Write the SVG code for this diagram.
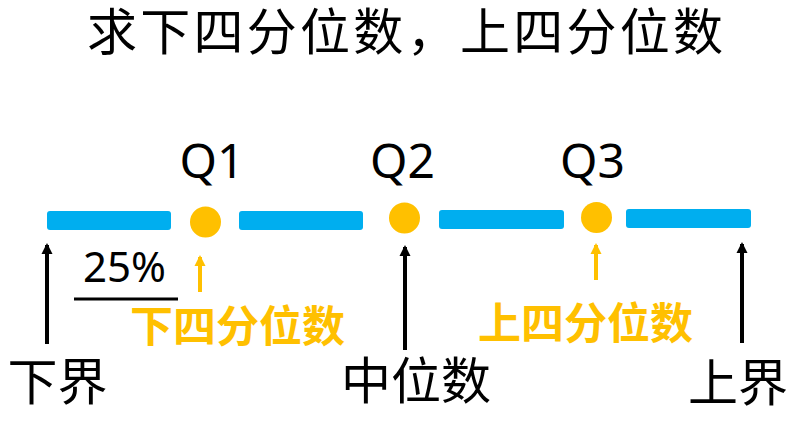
<svg xmlns="http://www.w3.org/2000/svg" width="810" height="434" viewBox="0 0 810 434">
<style>
.cjk{font-family:"Noto Sans CJK SC","Noto Sans",sans-serif;fill:#000}
.lat{font-family:"Noto Sans","Noto Sans CJK SC",sans-serif;fill:#000}
.ylab{font-family:"Noto Sans CJK SC",sans-serif;font-weight:bold;fill:#FFC000;font-size:43px}
.bar{fill:#00AEEF}
.dot{fill:#FFC000}
.blk{stroke:#000;stroke-width:4;fill:none}
.yel{stroke:#FFC000;stroke-width:4;fill:none}
</style>
<defs>
<marker id="ab" viewBox="0 0 12 12" refX="10" refY="6" markerWidth="12" markerHeight="12" markerUnits="userSpaceOnUse" orient="auto">
<path d="M12 6 L1 0.5 L1 11.5 Z" fill="#000"/>
</marker>
<marker id="ay" viewBox="0 0 12 12" refX="10" refY="6" markerWidth="12" markerHeight="12" markerUnits="userSpaceOnUse" orient="auto">
<path d="M12 6 L1 0.5 L1 11.5 Z" fill="#FFC000"/>
</marker>
</defs>
<rect width="810" height="434" fill="#fff"/>
<g id="title">
<text class="cjk" x="87" y="50" font-size="50" textLength="636" lengthAdjust="spacing">求下四分位数，上四分位数</text>
</g>
<g id="axis">
<rect class="bar" x="47" y="211" width="124" height="19" rx="3"/>
<rect class="bar" x="239" y="211" width="124" height="19" rx="3"/>
<rect class="bar" x="439" y="210" width="125" height="19" rx="3"/>
<rect class="bar" x="626" y="209" width="125" height="19" rx="3"/>
</g>
<g id="q1">
<circle class="dot" cx="205.5" cy="222" r="15.5"/>
<text class="lat" x="212" y="178" font-size="48" text-anchor="middle">Q1</text>
</g>
<g id="q2">
<circle class="dot" cx="404.5" cy="218" r="15.5"/>
<text class="lat" x="402.5" y="178" font-size="48" text-anchor="middle">Q2</text>
</g>
<g id="q3">
<circle class="dot" cx="596.5" cy="217.5" r="15.5"/>
<text class="lat" x="592.5" y="178" font-size="48" text-anchor="middle">Q3</text>
</g>
<g id="connectors">
<line class="blk" x1="47" y1="344" x2="47" y2="245" marker-end="url(#ab)"/>
<line class="blk" x1="405" y1="350" x2="405" y2="247" marker-end="url(#ab)"/>
<line class="blk" x1="742" y1="343" x2="742" y2="244" marker-end="url(#ab)"/>
<line class="yel" x1="200" y1="292" x2="200" y2="257" marker-end="url(#ay)"/>
<line class="yel" x1="596" y1="280" x2="596" y2="245" marker-end="url(#ay)"/>
<line x1="74" y1="299" x2="178" y2="299" stroke="#000" stroke-width="3"/>
</g>
<g id="pct">
<text class="lat" x="124.5" y="282" font-size="42" text-anchor="middle">25%</text>
</g>
<g id="lower-quartile">
<text class="ylab" x="237.5" y="342" text-anchor="middle">下四分位数</text>
</g>
<g id="upper-quartile">
<text class="ylab" x="585.5" y="339" text-anchor="middle">上四分位数</text>
</g>
<g id="lower-bound">
<text class="cjk" x="57.5" y="400" font-size="50" text-anchor="middle">下界</text>
</g>
<g id="median">
<text class="cjk" x="416" y="399" font-size="50" text-anchor="middle">中位数</text>
</g>
<g id="upper-bound">
<text class="cjk" x="738" y="401" font-size="50" text-anchor="middle">上界</text>
</g>
</svg>
